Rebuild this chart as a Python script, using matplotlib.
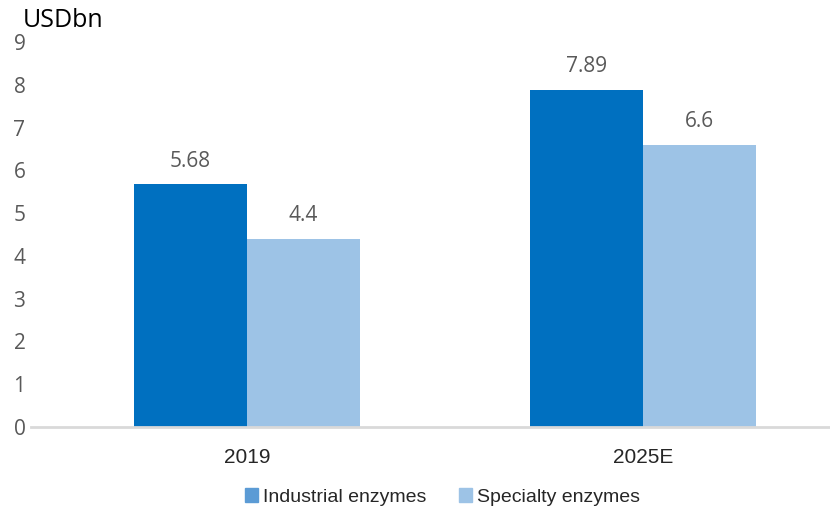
import matplotlib
matplotlib.use("Agg")
import matplotlib.pyplot as plt
import numpy as np
from matplotlib.patches import Patch

categories = ["2019", "2025E"]
industrial = [5.68, 7.89]
specialty = [4.4, 6.6]
industrial_labels = ["5.68", "7.89"]
specialty_labels = ["4.4", "6.6"]
series_names = ["Industrial enzymes", "Specialty enzymes"]
yticks = [0, 1, 2, 3, 4, 5, 6, 7, 8, 9]

c_ind = "#0070C0"
c_spe = "#9DC3E6"
c_ind_leg = "#5B9BD5"
gray = "#595959"
dark = "#262626"

fig = plt.figure(figsize=(8.30, 5.13), dpi=100)
ax = fig.add_axes([0.0373, 0.1676, 0.9627, 0.7504])

x = np.arange(len(categories))
w = 0.285
ax.bar(x - w / 2, industrial, w, color=c_ind)
ax.bar(x + w / 2, specialty, w, color=c_spe)

for xi, v, lab in zip(x - w / 2, industrial, industrial_labels):
    ax.annotate(lab, (xi, v), xytext=(0, 9), textcoords="offset points",
                ha="center", va="bottom", fontsize=15, color=gray, family="Open Sans")
for xi, v, lab in zip(x + w / 2, specialty, specialty_labels):
    ax.annotate(lab, (xi, v), xytext=(0, 9), textcoords="offset points",
                ha="center", va="bottom", fontsize=15, color=gray, family="Open Sans")

ax.set_xlim(-0.545, 1.472)
ax.set_ylim(0, 9)
ax.set_yticks(yticks)
ax.set_yticklabels([str(t) for t in yticks], fontsize=15, color=gray, family="Open Sans")
ax.set_xticks(x)
ax.set_xticklabels(categories, fontsize=15, color=dark,
                   family=["Liberation Sans", "DejaVu Sans"])
ax.tick_params(axis="both", length=0)
ax.tick_params(axis="x", pad=15)
ax.tick_params(axis="y", pad=4)
for s in ["top", "right", "left"]:
    ax.spines[s].set_visible(False)
ax.spines["bottom"].set_color("#D9D9D9")
ax.spines["bottom"].set_linewidth(2)

fig.text(0.027, 0.96, "USDbn", fontsize=18, color="black", family="Open Sans",
         ha="left", va="center")

handles = [Patch(color=c_ind_leg), Patch(color=c_spe)]
leg = fig.legend(handles, series_names, loc="center", bbox_to_anchor=(0.533, 0.031),
                 ncol=2, frameon=False, handlelength=0.67, handleheight=0.67,
                 handletextpad=0.26, columnspacing=1.65,
                 prop={"family": ["Liberation Sans", "DejaVu Sans"], "size": 14})
for t in leg.get_texts():
    t.set_color(dark)

fig.savefig("out.png", dpi=100)
